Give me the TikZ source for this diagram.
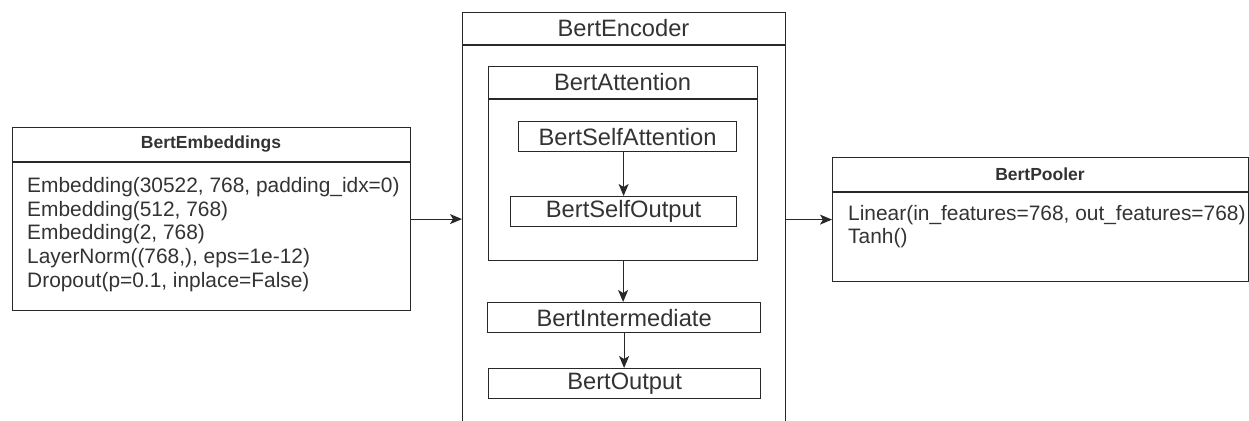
\documentclass[tikz,border=0pt]{standalone}
\usepackage{fontspec}
\setmainfont{Liberation Sans}
\usetikzlibrary{arrows.meta}
\definecolor{ink}{RGB}{51,51,51}
\definecolor{edge}{RGB}{40,40,40}
\begin{document}
\begin{tikzpicture}[x=1pt,y=-1pt,
  box/.style={draw=edge, line width=1.2pt, rectangle, inner sep=0pt, anchor=north west},
  title/.style={font=\fontsize{23.7}{26}\selectfont, text=ink},
  head/.style={font=\bfseries\fontsize{17.5}{20}\selectfont, text=ink},
  body/.style={font=\fontsize{20.9}{23.7}\selectfont, text=ink, anchor=base west, inner sep=0pt},
  rule/.style={draw=edge, line width=1.2pt},
  link/.style={draw=edge, line width=1.2pt, -{Stealth[length=12pt,width=10pt,inset=3pt]}}]
\clip (0,0) rectangle (1249,420);

% ---- BertEmbeddings ----
\node[box, minimum width=398pt, minimum height=183pt] (emb) at (12,127) {};
\draw[rule] ([yshift=-35pt]emb.north west) -- ([yshift=-35pt]emb.north east);
\node[head] (embT) at (211,144.5) {BertEmbeddings};
\foreach \t [count=\i] in {{Embedding(30522, 768, padding\_idx=0)},
                          {Embedding(512, 768)},
                          {Embedding(2, 768)},
                          {LayerNorm((768,), eps=1e-12)},
                          {Dropout(p=0.1, inplace=False)}}
  \node[body] (emb-\i) at (27,{192.5+23.7*(\i-1)}) {\t};

% ---- BertEncoder ----
\node[box, minimum width=323pt, minimum height=414pt] (enc) at (462,12) {};
\draw[rule] ([yshift=-33pt]enc.north west) -- ([yshift=-33pt]enc.north east);
\node[title] (encT) at (623.5,28.5) {BertEncoder};

\node[box, minimum width=269pt, minimum height=194pt] (att) at (488,66) {};
\draw[rule] ([yshift=-33pt]att.north west) -- ([yshift=-33pt]att.north east);
\node[title] (attT) at (622.5,82.5) {BertAttention};

\node[box, title, anchor=north west, minimum width=218pt, minimum height=30pt] (sa) at (518,121) {BertSelfAttention};
\node[box, title, anchor=north west, minimum width=226pt, minimum height=30pt] (so) at (510,196) {BertSelfOutput};
\node[box, title, anchor=north west, minimum width=273pt, minimum height=30pt] (inter) at (487,302) {BertIntermediate};
\node[box, title, anchor=north west, minimum width=272pt, minimum height=30pt] (out) at (488,368) {BertOutput};

% ---- BertPooler ----
\node[box, minimum width=416pt, minimum height=124pt] (pool) at (832,157) {};
\draw[rule] ([yshift=-35pt]pool.north west) -- ([yshift=-35pt]pool.north east);
\node[head] (poolT) at (1040,174.5) {BertPooler};
\node[body] (pool-1) at (848,220.5) {Linear(in\_features=768, out\_features=768)};
\node[body] (pool-2) at (848,243.5) {Tanh()};

% ---- connectors ----
\draw[link] (emb.east) -- (emb.east -| enc.west);
\draw[link] (enc.east) -- (enc.east -| pool.west);
\draw[link] (so.north |- sa.south) -- (so.north);
\draw[link] (att.south) -- (att.south |- inter.north);
\draw[link] (inter.south) -- (inter.south |- out.north);
\end{tikzpicture}
\end{document}
